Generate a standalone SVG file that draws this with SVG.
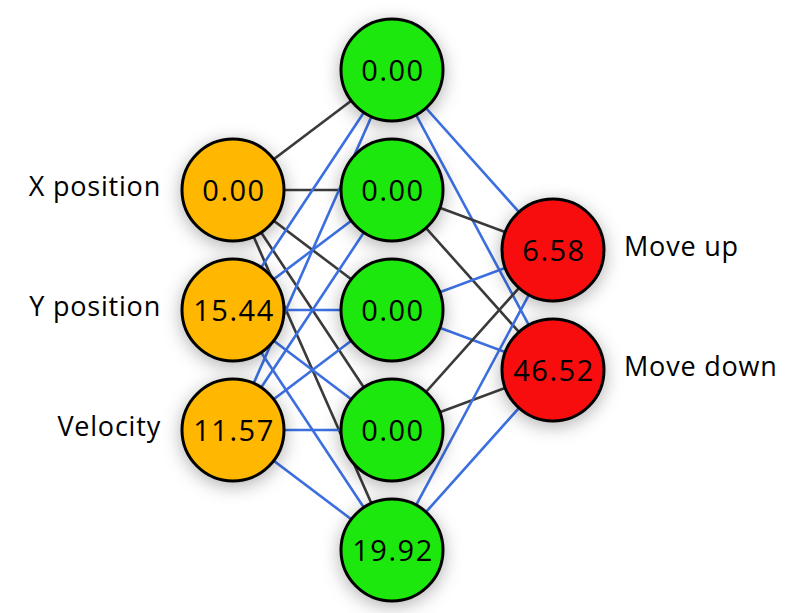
<svg xmlns="http://www.w3.org/2000/svg" width="808" height="613" viewBox="0 0 808 613">
<defs>
<filter id="sh" x="-50%" y="-50%" width="200%" height="200%">
<feDropShadow dx="0" dy="4" stdDeviation="9" flood-color="#000" flood-opacity="0.3"/>
</filter>
</defs>
<style>
.pos{stroke:#3a3a3a;stroke-width:2.6;fill:none}
.neg{stroke:#3b6fe0;stroke-width:2.6;fill:none}
.n{stroke:#000;stroke-width:3;filter:url(#sh)}
.in{fill:#ffb700}
.hid{fill:#1ee80a}
.out{fill:#f71111}
.v{font-family:"Open Sans","Liberation Sans",sans-serif;font-size:29px;letter-spacing:1.5px;fill:#000;text-anchor:middle}
.lab{font-family:"Open Sans","Liberation Sans",sans-serif;font-size:27px;letter-spacing:0.8px;fill:#000}
</style>
<rect width="808" height="613" fill="#fff"/>
<g id="connectors">
<line class="pos" x1="233" y1="190" x2="392" y2="70"/>
<line class="pos" x1="233" y1="190" x2="392" y2="190"/>
<line class="pos" x1="233" y1="190" x2="392" y2="310"/>
<line class="pos" x1="233" y1="190" x2="392" y2="430"/>
<line class="pos" x1="233" y1="190" x2="392" y2="550"/>
<line class="neg" x1="233" y1="310" x2="392" y2="70"/>
<line class="neg" x1="233" y1="310" x2="392" y2="190"/>
<line class="neg" x1="233" y1="310" x2="392" y2="310"/>
<line class="neg" x1="233" y1="310" x2="392" y2="430"/>
<line class="neg" x1="233" y1="310" x2="392" y2="550"/>
<line class="neg" x1="233" y1="430" x2="392" y2="70"/>
<line class="neg" x1="233" y1="430" x2="392" y2="190"/>
<line class="neg" x1="233" y1="430" x2="392" y2="310"/>
<line class="neg" x1="233" y1="430" x2="392" y2="430"/>
<line class="neg" x1="233" y1="430" x2="392" y2="550"/>
<line class="neg" x1="392" y1="70" x2="553" y2="250"/>
<line class="neg" x1="392" y1="70" x2="553" y2="370"/>
<line class="pos" x1="392" y1="190" x2="553" y2="250"/>
<line class="pos" x1="392" y1="190" x2="553" y2="370"/>
<line class="neg" x1="392" y1="310" x2="553" y2="250"/>
<line class="neg" x1="392" y1="310" x2="553" y2="370"/>
<line class="pos" x1="392" y1="430" x2="553" y2="250"/>
<line class="pos" x1="392" y1="430" x2="553" y2="370"/>
<line class="neg" x1="392" y1="550" x2="553" y2="250"/>
<line class="neg" x1="392" y1="550" x2="553" y2="370"/>
</g>
<g id="in0"><circle class="n in" cx="233" cy="190" r="51"/><text class="v" x="234" y="201">0.00</text><text class="lab" x="161" y="196" text-anchor="end">X position</text></g>
<g id="in1"><circle class="n in" cx="233" cy="310" r="51"/><text class="v" x="234" y="321">15.44</text><text class="lab" x="161" y="316" text-anchor="end">Y position</text></g>
<g id="in2"><circle class="n in" cx="233" cy="430" r="51"/><text class="v" x="234" y="441">11.57</text><text class="lab" x="161" y="436" text-anchor="end">Velocity</text></g>
<g id="h0"><circle class="n hid" cx="392" cy="70" r="51"/><text class="v" x="393" y="81">0.00</text></g>
<g id="h1"><circle class="n hid" cx="392" cy="190" r="51"/><text class="v" x="393" y="201">0.00</text></g>
<g id="h2"><circle class="n hid" cx="392" cy="310" r="51"/><text class="v" x="393" y="321">0.00</text></g>
<g id="h3"><circle class="n hid" cx="392" cy="430" r="51"/><text class="v" x="393" y="441">0.00</text></g>
<g id="h4"><circle class="n hid" cx="392" cy="550" r="51"/><text class="v" x="393" y="561">19.92</text></g>
<g id="o0"><circle class="n out" cx="553" cy="250" r="51"/><text class="v" x="554" y="261">6.58</text><text class="lab" x="624" y="256">Move up</text></g>
<g id="o1"><circle class="n out" cx="553" cy="370" r="51"/><text class="v" x="554" y="381">46.52</text><text class="lab" x="624" y="376">Move down</text></g>
</svg>
